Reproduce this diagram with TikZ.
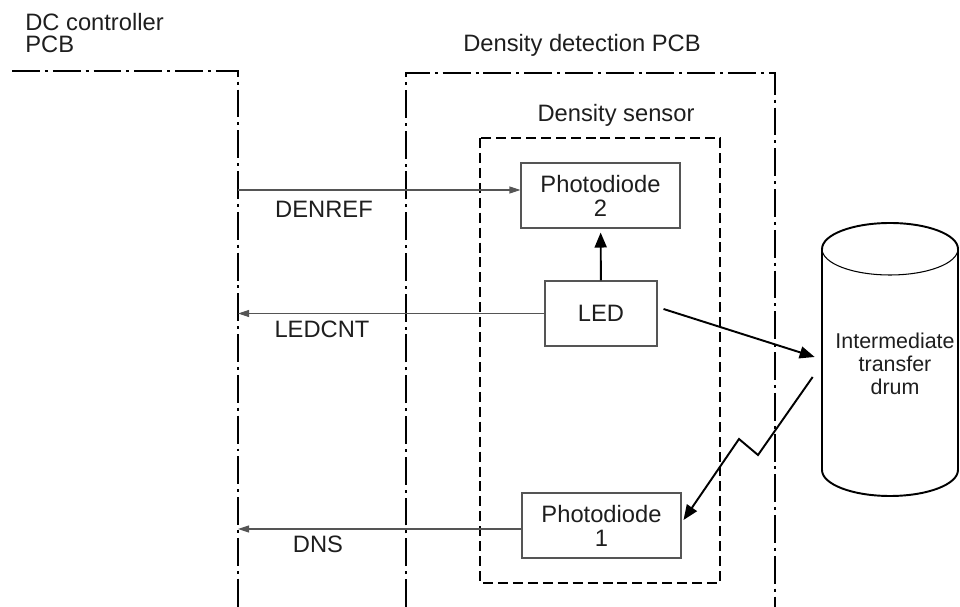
\documentclass[tikz,border=0pt]{standalone}
\usepackage{fontspec}
\setmainfont{Liberation Sans}
\usetikzlibrary{arrows.meta,calc}
\definecolor{linegray}{RGB}{85,85,85}
\definecolor{inkblack}{RGB}{30,30,30}

\begin{document}
\begin{tikzpicture}[x=0.02cm,y=-0.02cm,
    every node/.style={font=\fontsize{13.5}{13.6}\selectfont,text=inkblack},
    pcbline/.style={line width=1.1pt,dash pattern=on 15.9pt off 2.8pt on 1.7pt off 2.8pt},
    sensline/.style={line width=1.1pt,dash pattern=on 5.7pt off 2.8pt},
    part/.style={draw=linegray,line width=0.6pt,minimum width=3.18cm,minimum height=1.3cm,align=center,inner sep=0pt},
    sig/.style={draw=linegray,line width=0.6pt,-{Triangle[length=0.22cm,width=0.14cm]}},
    beam/.style={line width=1.1pt,-{Triangle[length=0.3cm,width=0.24cm]}}]
  \useasboundingbox (0,0) rectangle (960,607);
  \node[anchor=north west,align=left,inner sep=0pt,font=\fontsize{13.5}{12.6}\selectfont] (dclbl) at (25,13) {DC controller\\PCB};
  \node[anchor=base] (pcblbl) at (582,52) {Density detection PCB};
  \node[anchor=base] (senslbl) at (616,122) {Density sensor};
  \node[part] (pd2) at (600.5,195.5) {Photodiode\\2};
  \node[part,minimum width=2.24cm] (led) at (601,313.5) {LED};
  \node[part] (pd1) at (601.5,525.5) {Photodiode\\1};
  \node[align=center,minimum width=2.72cm,inner sep=0pt,font=\fontsize{12.2}{13.1}\selectfont] (drum) at (895,364) {Intermediate\\transfer\\drum};

  \draw[pcbline] (12,71) -- (238,71) -- (238,607.5) -- (12,607.5);
  \draw[pcbline] (406,607) -- (406,73) -- (775,73) -- (775,607);
  \draw[sensline] (480,138) rectangle (720,583);

  \draw[line width=1.1pt] (822,249) -- (822,470) arc[start angle=180,end angle=360,x radius=1.36cm,y radius=0.52cm]
    -- (958,249) arc[start angle=0,end angle=180,x radius=1.36cm,y radius=0.52cm];
  \draw[line width=0.6pt] (822,249) arc[start angle=180,end angle=360,x radius=1.36cm,y radius=0.52cm];

  \coordinate (denref) at (238,190);
  \coordinate (ledcnt) at (238,313.5);
  \coordinate (dns) at (238,529);
  \draw[sig] (denref) -- (denref -| pd2.west);
  \draw[sig] (led.west) -- (ledcnt);
  \draw[sig] (dns -| pd1.west) -- (dns);
  \node[anchor=base] (denreflbl) at (324,218) {DENREF};
  \node[anchor=base] (ledcntlbl) at (322,338) {LEDCNT};
  \node[anchor=base] (dnslbl) at (318,552) {DNS};

  \draw[beam,shorten >=0.08cm] (led) -- (pd2);
  \draw[beam] ([xshift=0.12cm,yshift=0.09cm]led.east) -- ([xshift=-0.24cm,yshift=0.14cm]drum.west);
  \coordinate (kink1) at (758,455);
  \coordinate (kink2) at (739,439);
  \draw[beam] ([xshift=-0.28cm,yshift=-0.26cm]drum.west) -- (kink1) -- (kink2) -- ([xshift=0.04cm,yshift=0.11cm]pd1.east);
\end{tikzpicture}
\end{document}
